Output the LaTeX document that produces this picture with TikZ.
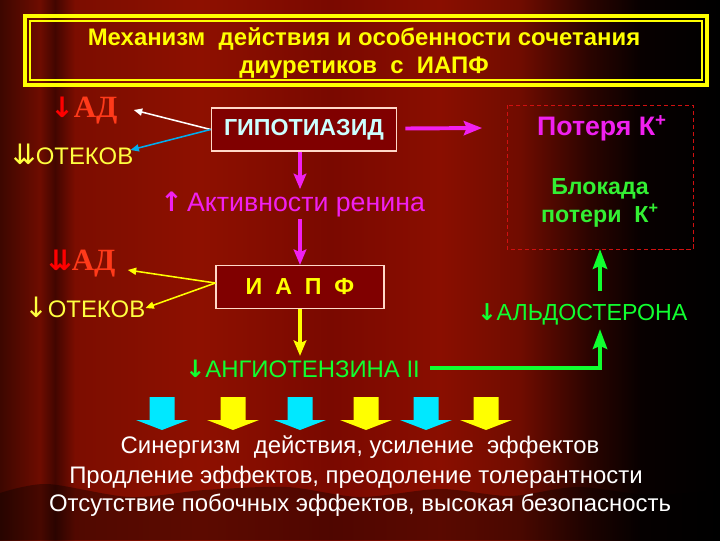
\documentclass[tikz,border=0pt]{standalone}
\usepackage{fontspec}
\setmainfont{Liberation Sans}
\newfontfamily\adfont{Liberation Serif}
\newfontfamily\arrfont{DejaVu Sans}
\usetikzlibrary{arrows.meta,calc}
\definecolor{bgA}{HTML}{3D0700}
\definecolor{bgB}{HTML}{6E0C00}
\definecolor{bgS}{HTML}{420600}
\definecolor{bgC}{HTML}{7C0D00}
\definecolor{bgD}{HTML}{8E1000}
\definecolor{bgE}{HTML}{7A0900}
\definecolor{bgF}{HTML}{8A0E00}
\definecolor{bgG}{HTML}{700C00}
\definecolor{bgH}{HTML}{2A0400}
\definecolor{bgI}{HTML}{080000}
\definecolor{titleyellow}{HTML}{FFFF00}
\definecolor{adred}{HTML}{FF3A1A}
\definecolor{oteyellow}{HTML}{FFFF40}
\definecolor{boxline}{HTML}{FFD8C8}
\definecolor{boxfill}{HTML}{800000}
\definecolor{gipocyan}{HTML}{CCFFFF}
\definecolor{mag}{HTML}{F020F0}
\definecolor{grn}{HTML}{10FF30}
\definecolor{blkgreen}{HTML}{33F033}
\definecolor{dashred}{HTML}{D01010}
\definecolor{blockcyan}{HTML}{00E8FF}
% whole slide, x in px mapped to 25bp..75bp
\pgfdeclarehorizontalshading{slidebg}{100bp}{color(0bp)=(bgA); color(25bp)=(bgA); color(27.78bp)=(bgB);
  color(28.82bp)=(bgS); color(30.21bp)=(bgC); color(38.89bp)=(bgD); color(47.92bp)=(bgE);
  color(55.56bp)=(bgF); color(61.11bp)=(bgG); color(65.97bp)=(bgH); color(69.44bp)=(bgI);
  color(75bp)=(black); color(100bp)=(black)}
\pgfdeclarehorizontalshading{curtainbg}{100bp}{color(0bp)=(bgA!65!black); color(25bp)=(bgA!65!black); color(27.78bp)=(bgB!65!black);
  color(28.82bp)=(bgS!65!black); color(30.21bp)=(bgC!65!black); color(38.89bp)=(bgD!65!black); color(47.92bp)=(bgE!65!black);
  color(55.56bp)=(bgF!65!black); color(61.11bp)=(bgG!65!black); color(65.97bp)=(bgH!65!black); color(69.44bp)=(bgI!65!black);
  color(75bp)=(black); color(100bp)=(black)}
\tikzset{
  titletext/.style={text=titleyellow,font=\bfseries\fontsize{17}{20}\selectfont,align=center},
  adlabel/.style={text=adred,font=\adfont\bfseries\fontsize{22}{26}\selectfont,inner sep=0pt,anchor=west},
  otelabel/.style={text=oteyellow,font=\fontsize{17}{20}\selectfont,inner sep=0pt,anchor=west},
  drugbox/.style={draw=boxline,fill=boxfill,line width=0.8pt,minimum height=30.6pt},
  effect/.style={text=white,font=\fontsize{17}{20}\selectfont,inner sep=0pt},
  thinarrow/.style={line width=1.1pt,-{Triangle[length=6pt,width=5pt]}},
  fatarrow/.style={line width=2.8pt,-{Stealth[length=13pt,width=10pt,inset=2pt]}},
  midarrow/.style={line width=2.2pt,-{Stealth[length=11pt,width=9pt,inset=2pt]}},
  greenarrow/.style={line width=3.5pt,grn,-{Stealth[length=14pt,width=10pt,inset=2pt]}},
}
\begin{document}
\begin{tikzpicture}[x=0.025cm,y=-0.025cm]
    \useasboundingbox (0,0) rectangle (720,540);
    % background
    \shade [shading=slidebg] (0,0) rectangle (720,540);
    % curtain
    \begin{scope}
      \clip plot [smooth] coordinates {(0,493) (47,484) (130,497) (205,490) (287,487) (360,497) (440,489) (510,496) (577,487) (650,495) (720,490)} -- (720,540) -- (0,540) -- cycle;
      \shade [shading=curtainbg] (0,0) rectangle (720,540);
    \end{scope}
    % title frame
    \draw [titleyellow,line width=3pt] (25,16) rectangle (707,85);
    \draw [titleyellow,line width=0.8pt] (30,21) rectangle (702,80);
    \node (title) [titletext] at (364,53) {Механизм\ \ действия и особенности сочетания\\диуретиков\ \ с\ \ ИАПФ};
    % first row
    \node (gipo) [drugbox,minimum width=132pt,text=gipocyan,font=\bfseries\fontsize{16.5}{20}\selectfont] at (304,129.5) {ГИПОТИАЗИД};
    \node (ad1) [adlabel] at (50,111) {{\arrfont\fontsize{20}{24}\selectfont\color{red}↓}АД};
    \node (ote1) [otelabel] at (12,154) {{\arrfont\fontsize{20}{24}\selectfont ⇊}ОТЕКОВ};
    \draw [thinarrow,white] (gipo.west) -- ($(ad1.east)+(16,-1)$);
    \draw [thinarrow,cyan] (gipo.west) -- ($(ote1.east)+(-3,-4)$);
    % renin
    \node (renin) [text=mag,font=\fontsize{19}{22}\selectfont,inner sep=0pt,anchor=west] at (160,204) {{\arrfont\bfseries ↑}\,Активности ренина};
    \draw [midarrow,mag] ($(gipo.south)+(-4,0)$) -- ($(gipo.south |- renin.north)+(-4,-2)$);
    % dashed box
    \draw [dashred,densely dashed,line width=0.6pt] (507,105) rectangle (693,249);
    \node (dashbox) [inner sep=0pt,minimum width=132pt,minimum height=102pt] at (600,177) {};
    \node (poterya) [text=mag,font=\bfseries\fontsize{19}{22}\selectfont] at (602,128) {Потеря К\textsuperscript{+}};
    \node (blokada) [text=blkgreen,font=\bfseries\fontsize{16.5}{19.5}\selectfont,align=center] at (600,203) {Блокада\\потери\ \ К\textsuperscript{+}};
    \draw [fatarrow,mag] (gipo.east) ++(8,-1) -- ($(poterya.west)+(-50,0)$);
    % second row
    \node (iapf) [drugbox,minimum width=119.5pt,text=titleyellow,font=\bfseries\fontsize{16.5}{20}\selectfont] at (300,287) {И\ \ А\ \ П\ \ Ф};
    \draw [midarrow,mag] ($(iapf.north |- renin.south)+(0,2)$) -- (iapf.north);
    \node (ad2) [adlabel] at (48,264) {{\arrfont\fontsize{20}{24}\selectfont\color{red}⇊}АД};
    \node (ote2) [otelabel] at (24,307) {{\arrfont\fontsize{20}{24}\selectfont ↓}ОТЕКОВ};
    \draw [thinarrow,titleyellow] (iapf.west) ++(0,-4) -- ($(ad2.east)+(12,6)$);
    \draw [thinarrow,titleyellow] (iapf.west) ++(0,-4) -- ($(ote2.east)+(0,1)$);
    % angiotensin and aldosterone
    \node (angio) [text=grn,font=\fontsize{17}{20}\selectfont,inner sep=0pt,anchor=west] at (185,369) {{\arrfont\bfseries ↓}АНГИОТЕНЗИНА II};
    \draw [midarrow,titleyellow] (iapf.south) -- ($(iapf.south |- angio.north)+(0,-4)$);
    \node (aldo) [text=grn,font=\fontsize{16.5}{20}\selectfont,inner sep=0pt,anchor=west] at (477,314) {{\arrfont\bfseries ↓}АЛЬДОСТЕРОНА};
    \draw [greenarrow] ($(angio.east)+(10,-1)$) -| ($(dashbox.south |- aldo.south)+(0,4)$);
    \draw [greenarrow] ($(dashbox.south |- aldo.north)+(0,-12)$) -- (dashbox.south);
    % block arrows
    \foreach \cx/\col in {162/blockcyan,233/titleyellow,300/blockcyan,366/titleyellow,426/blockcyan,486/titleyellow}
      \fill [\col] (\cx-12.5,397) -- (\cx+12.5,397) -- (\cx+12.5,420) -- (\cx+26,420)
        -- (\cx,430) -- (\cx-26,420) -- (\cx-12.5,420) -- cycle;
    % effects
    \node (eff1) [effect] at (360,447) {Синергизм\ \ действия, усиление\ \ эффектов};
    \node (eff2) [effect] at (356,477) {Продление эффектов, преодоление толерантности};
    \node (eff3) [effect] at (360,505) {Отсутствие побочных эффектов, высокая безопасность};
\end{tikzpicture}
\end{document}
